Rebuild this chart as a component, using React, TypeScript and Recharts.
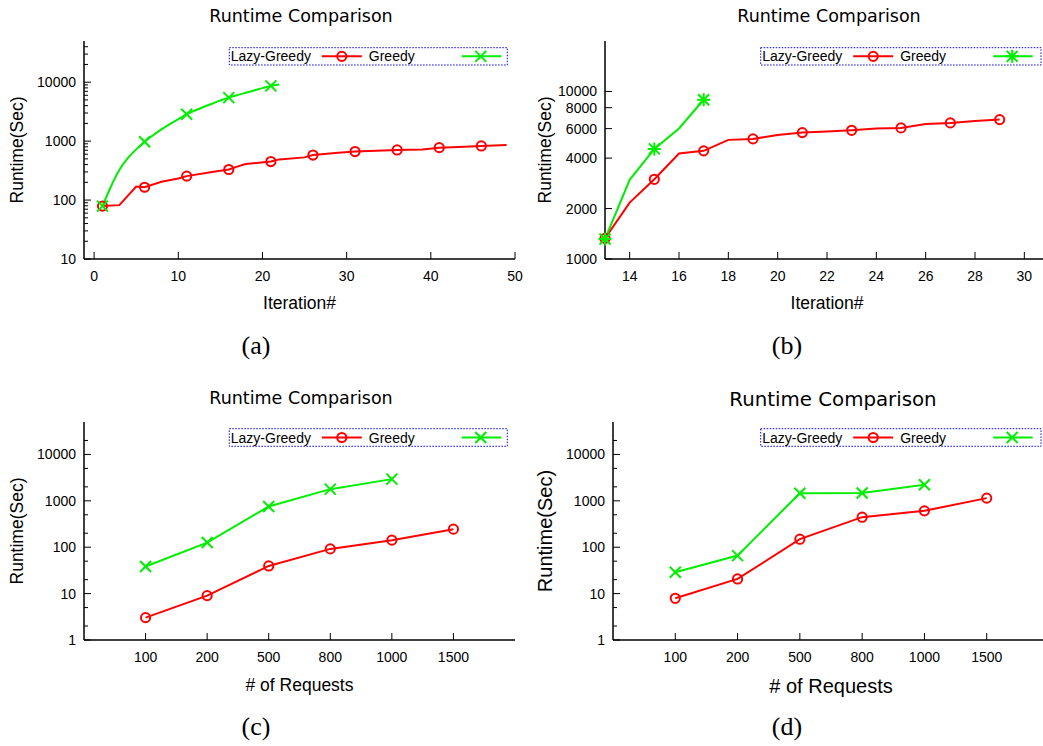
import React from 'react';
import { LineChart, Line, XAxis, YAxis } from 'recharts';

const RED = '#ff0000';
const GREEN = '#00ee00';
const SANS = '"Liberation Sans", Arial, Helvetica, sans-serif';
const TITLE_FONT = '"DejaVu Sans", Verdana, sans-serif';
const SERIF = '"Liberation Serif", "Times New Roman", serif';

// ---- (a) runtime vs iteration, first run ----
const iterA_lazy = [1, 3, 5, 6, 8, 10, 11, 14, 16, 17, 18, 21, 22, 25, 26, 29, 31, 36, 39, 41, 44, 46, 49];
const runA_lazy = [79, 82, 170, 165, 205, 232, 255, 300, 330, 370, 410, 450, 490, 530, 580, 638, 665, 708, 720, 775, 805, 829, 862];
const iterA_greedy = [1, 2, 3, 4, 5, 6, 7, 8, 9, 10, 11, 12, 13, 14, 15, 16, 17, 18, 19, 20, 21, 22];
const runA_greedy = [79, 170, 324, 513, 724, 977, 1260, 1585, 1950, 2370, 2850, 3310, 3800, 4315, 4900, 5480, 6030, 6610, 7240, 7940, 8650, 9120];

// ---- (b) runtime vs iteration, second run ----
const iterB_lazy = [13, 14, 15, 16, 17, 18, 19, 20, 21, 22, 23, 24, 25, 26, 27, 28, 29];
const runB_lazy = [1327, 2170, 2990, 4260, 4420, 5140, 5210, 5500, 5680, 5760, 5860, 6000, 6060, 6400, 6490, 6670, 6790];
const iterB_greedy = [13, 14, 15, 16, 17];
const runB_greedy = [1315, 2970, 4540, 6010, 8920];

// ---- (c), (d) runtime vs number of requests ----
const requests = ['100', '200', '500', '800', '1000', '1500'];
const runC_lazy = [3.03, 9.06, 39.5, 92, 142, 245];
const runC_greedy = [38.3, 126, 755, 1785, 2935];
const runD_lazy = [7.93, 20.7, 149, 444, 608, 1142];
const runD_greedy = [28.9, 66, 1460, 1480, 2214];

// ---- ticks ----
const ticksA_x = [0, 10, 20, 30, 40, 50];
const ticksA_y = [10, 100, 1000, 10000];
const ticksB_x = [14, 16, 18, 20, 22, 24, 26, 28, 30];
const ticksB_y = [1000, 2000, 4000, 6000, 8000, 10000];
const ticksCD_x = [0, 1, 2, 3, 4, 5];
const ticksCD_y = [1, 10, 100, 1000, 10000];

const minorTicks = (decades: number[], mults: number[], max: number) =>
  decades.flatMap((d) => mults.map((m) => m * d)).filter((v) => v < max);

const minorA_y = minorTicks([10, 100, 1000, 10000], [2, 3, 4, 5, 6, 7, 8, 9], 50000);
const minorCD_y = minorTicks([1, 10, 100, 1000, 10000], [2, 5], 50000);

type MarkerKind = 'circle' | 'cross' | 'star';
type Row = { x: number; y: number; mark: boolean };
type Series = { id: string; rows: Row[]; color: string; marker: MarkerKind; curve?: 'linear' | 'monotone' };

const toRows = (xs: number[], ys: number[], mark: (x: number) => boolean): Row[] =>
  xs.map((x, i) => ({ x, y: ys[i], mark: mark(x) }));

const idx = (arr: number[]) => arr.map((_, i) => i);

function MarkerShape({ kind, cx, cy, color }: { kind: MarkerKind; cx: number; cy: number; color: string }) {
  if (kind === 'circle') {
    return <circle cx={cx} cy={cy} r={4.6} fill="none" stroke={color} strokeWidth={2} />;
  }
  const s = 5.5;
  let d = `M${cx - s},${cy - s}L${cx + s},${cy + s}M${cx - s},${cy + s}L${cx + s},${cy - s}`;
  if (kind === 'star') d += `M${cx},${cy - s - 1}L${cx},${cy + s + 1}M${cx - s - 1},${cy}L${cx + s + 1},${cy}`;
  return <path d={d} stroke={color} strokeWidth={2} fill="none" />;
}

const tickText = { fontFamily: SANS, fontSize: 14, fill: '#000' };
const axisLine = { stroke: '#000', strokeWidth: 1.5 };

const leftTick = (majors: number[]) => (p: any) => {
  const v = p.payload.value;
  const big = majors.includes(v);
  return (
    <g key={`l-${v}`}>
      <line x1={p.x} x2={p.x + (big ? 7 : 4)} y1={p.y} y2={p.y} stroke="#000" />
      {big && (
        <text x={p.x - 8} y={p.y + 5} textAnchor="end" style={tickText}>
          {String(v)}
        </text>
      )}
    </g>
  );
};

const rightTick = (majors: number[]) => (p: any) => {
  const v = p.payload.value;
  const big = majors.includes(v);
  return <line key={`r-${v}`} x1={p.x} x2={p.x - (big ? 7 : 4)} y1={p.y} y2={p.y} stroke="#000" />;
};

const bottomTick = (fmt: (v: number) => string) => (p: any) => {
  const v = p.payload.value;
  return (
    <g key={`b-${v}`}>
      <line x1={p.x} x2={p.x} y1={p.y} y2={p.y - 7} stroke="#000" />
      <text x={p.x} y={p.y + 22} textAnchor="middle" style={tickText}>
        {fmt(v)}
      </text>
    </g>
  );
};

const topTick = (p: any) => (
  <line key={`t-${p.payload.value}`} x1={p.x} x2={p.x} y1={p.y} y2={p.y + 7} stroke="#000" />
);

type PanelProps = {
  left: number;
  top: number;
  width: number;
  height: number;
  yAxisWidth: number;
  plotTop: number;
  plotBottom: number;
  marginRight: number;
  xDomain: [number, number];
  xTicks: number[];
  xFormat: (v: number) => string;
  yDomain: [number, number];
  yMajor: number[];
  yMinor: number[];
  series: Series[];
  xLabel: string;
  labelSize: number;
  xLabelOffset: number;
  yLabelOffset: number;
};

function Panel(props: PanelProps) {
  const { left, top, width, height, yAxisWidth, plotTop, plotBottom, marginRight, xDomain, xTicks, xFormat, yDomain, yMajor, yMinor, series, xLabel, labelSize, xLabelOffset, yLabelOffset } = props;
  const yTicks = [...yMajor, ...yMinor];
  return (
    <div style={{ position: 'absolute', left, top }}>
      <LineChart width={width} height={height} margin={{ top: plotTop, right: marginRight, bottom: 0, left: 0 }}>
        <XAxis
          xAxisId="top"
          orientation="top"
          type="number"
          dataKey="x"
          domain={xDomain}
          ticks={xTicks}
          height={0}
          interval={0}
          tickSize={0}
          tickMargin={0}
          tickLine={false}
          axisLine={axisLine}
          tick={topTick}
        />
        <XAxis
          type="number"
          dataKey="x"
          domain={xDomain}
          ticks={xTicks}
          height={height - plotBottom}
          interval={0}
          tickSize={0}
          tickMargin={0}
          tickLine={false}
          axisLine={axisLine}
          tick={bottomTick(xFormat)}
          label={{ value: xLabel, position: 'insideTop', offset: xLabelOffset, fontSize: labelSize, fontFamily: SANS, fill: '#000' }}
        />
        <YAxis
          type="number"
          scale="log"
          domain={yDomain}
          ticks={yTicks}
          width={yAxisWidth}
          interval={0}
          tickSize={0}
          tickMargin={0}
          tickLine={false}
          axisLine={axisLine}
          tick={leftTick(yMajor)}
          label={{ value: 'Runtime(Sec)', angle: -90, position: 'insideLeft', offset: yLabelOffset, fontSize: labelSize, fontFamily: SANS, fill: '#000', style: { textAnchor: 'middle' } }}
        />
        <YAxis
          yAxisId="right"
          orientation="right"
          type="number"
          scale="log"
          domain={yDomain}
          ticks={yTicks}
          width={0}
          interval={0}
          tickSize={0}
          tickMargin={0}
          tickLine={false}
          axisLine={axisLine}
          tick={rightTick(yMajor)}
        />
        {series.map((s) => (
          <Line
            key={s.id}
            data={s.rows}
            dataKey="y"
            type={s.curve || 'linear'}
            stroke={s.color}
            strokeWidth={2}
            isAnimationActive={false}
            activeDot={false}
            legendType="none"
            dot={(p: any) =>
              p.payload && p.payload.mark ? (
                <MarkerShape key={`${s.id}-${p.index}`} kind={s.marker} cx={p.cx} cy={p.cy} color={s.color} />
              ) : (
                <g key={`${s.id}-${p.index}`} />
              )
            }
          />
        ))}
      </LineChart>
    </div>
  );
}

function LegendBox({ x, y, w, h, greenMarker }: { x: number; y: number; w: number; h: number; greenMarker: MarkerKind }) {
  const mid = y + h / 2;
  const base = mid + 5;
  return (
    <g>
      <rect x={x} y={y} width={w} height={h} fill="none" stroke="#0000ff" strokeWidth={1} strokeDasharray="1.5,1.5" />
      <text x={x + 1.5} y={base} style={{ fontFamily: SANS, fontSize: 14, fill: '#000' }}>Lazy-Greedy</text>
      <line x1={x + 92.5} x2={x + 132.5} y1={mid} y2={mid} stroke={RED} strokeWidth={2} />
      <MarkerShape kind="circle" cx={x + 112.5} cy={mid} color={RED} />
      <text x={x + 139.5} y={base} style={{ fontFamily: SANS, fontSize: 14, fill: '#000' }}>Greedy</text>
      <line x1={x + 232.5} x2={x + 272} y1={mid} y2={mid} stroke={GREEN} strokeWidth={2} />
      <MarkerShape kind={greenMarker} cx={x + 251.5} cy={mid} color={GREEN} />
    </g>
  );
}

const every5 = (x: number) => (x - 1) % 5 === 0;
const odd = (x: number) => x % 2 === 1;
const all = () => true;

const seriesA: Series[] = [
  { id: 'a-lazy', rows: toRows(iterA_lazy, runA_lazy, every5), color: RED, marker: 'circle' },
  { id: 'a-greedy', rows: toRows(iterA_greedy, runA_greedy, every5), color: GREEN, marker: 'cross', curve: 'monotone' },
];
const seriesB: Series[] = [
  { id: 'b-lazy', rows: toRows(iterB_lazy, runB_lazy, odd), color: RED, marker: 'circle' },
  { id: 'b-greedy', rows: toRows(iterB_greedy, runB_greedy, odd), color: GREEN, marker: 'star' },
];
const seriesC: Series[] = [
  { id: 'c-lazy', rows: toRows(idx(runC_lazy), runC_lazy, all), color: RED, marker: 'circle' },
  { id: 'c-greedy', rows: toRows(idx(runC_greedy), runC_greedy, all), color: GREEN, marker: 'cross' },
];
const seriesD: Series[] = [
  { id: 'd-lazy', rows: toRows(idx(runD_lazy), runD_lazy, all), color: RED, marker: 'circle' },
  { id: 'd-greedy', rows: toRows(idx(runD_greedy), runD_greedy, all), color: GREEN, marker: 'cross' },
];

const num = (v: number) => String(v);
const req = (v: number) => requests[v] ?? '';

export default function App() {
  return (
    <div style={{ position: 'absolute', left: 0, top: 0, width: 1043, height: 746, overflow: 'hidden', background: '#fff' }}>
      <Panel
        left={0} top={0} width={530} height={330} yAxisWidth={84} plotTop={41} plotBottom={259} marginRight={15}
        xDomain={[-1.2, 50]} xTicks={ticksA_x} xFormat={num}
        yDomain={[10, 50000]} yMajor={ticksA_y} yMinor={minorA_y}
        series={seriesA} xLabel="Iteration#" labelSize={17.5} xLabelOffset={38} yLabelOffset={17}
      />
      <Panel
        left={520} top={0} width={545} height={330} yAxisWidth={85} plotTop={41} plotBottom={259} marginRight={16}
        xDomain={[13, 31]} xTicks={ticksB_x} xFormat={num}
        yDomain={[1000, 20000]} yMajor={ticksB_y} yMinor={[]}
        series={seriesB} xLabel="Iteration#" labelSize={17.5} xLabelOffset={38} yLabelOffset={25}
      />
      <Panel
        left={0} top={380} width={530} height={330} yAxisWidth={84} plotTop={42} plotBottom={260} marginRight={15}
        xDomain={[-1, 6]} xTicks={ticksCD_x} xFormat={req}
        yDomain={[1, 50000]} yMajor={ticksCD_y} yMinor={minorCD_y}
        series={seriesC} xLabel="# of Requests" labelSize={17.5} xLabelOffset={39} yLabelOffset={17}
      />
      <Panel
        left={520} top={380} width={545} height={330} yAxisWidth={93} plotTop={42} plotBottom={260} marginRight={16}
        xDomain={[-1, 6]} xTicks={ticksCD_x} xFormat={req}
        yDomain={[1, 50000]} yMajor={ticksCD_y} yMinor={minorCD_y}
        series={seriesD} xLabel="# of Requests" labelSize={20} xLabelOffset={39} yLabelOffset={25}
      />
      <svg width={1043} height={746} style={{ position: 'absolute', left: 0, top: 0, pointerEvents: 'none' }}>
        <g style={{ fontFamily: TITLE_FONT, fill: '#000' }} textAnchor="middle">
          <text x={301} y={22} fontSize={17.5}>Runtime Comparison</text>
          <text x={829} y={22} fontSize={17.5}>Runtime Comparison</text>
          <text x={301} y={403.5} fontSize={17.5}>Runtime Comparison</text>
          <text x={833} y={406} fontSize={19.8}>Runtime Comparison</text>
        </g>
        <g style={{ fontFamily: SERIF, fill: '#000' }} textAnchor="middle" fontSize={26}>
          <text x={256} y={354}>(a)</text>
          <text x={787} y={354}>(b)</text>
          <text x={256} y={735}>(c)</text>
          <text x={787} y={735}>(d)</text>
        </g>
        <LegendBox x={229.3} y={47.7} w={278} h={17.3} greenMarker="cross" />
        <LegendBox x={760.7} y={47.7} w={280.3} h={17.3} greenMarker="star" />
        <LegendBox x={229.3} y={428.7} w={278} h={17.6} greenMarker="cross" />
        <LegendBox x={760.7} y={428.7} w={280.3} h={17.6} greenMarker="cross" />
      </svg>
    </div>
  );
}
